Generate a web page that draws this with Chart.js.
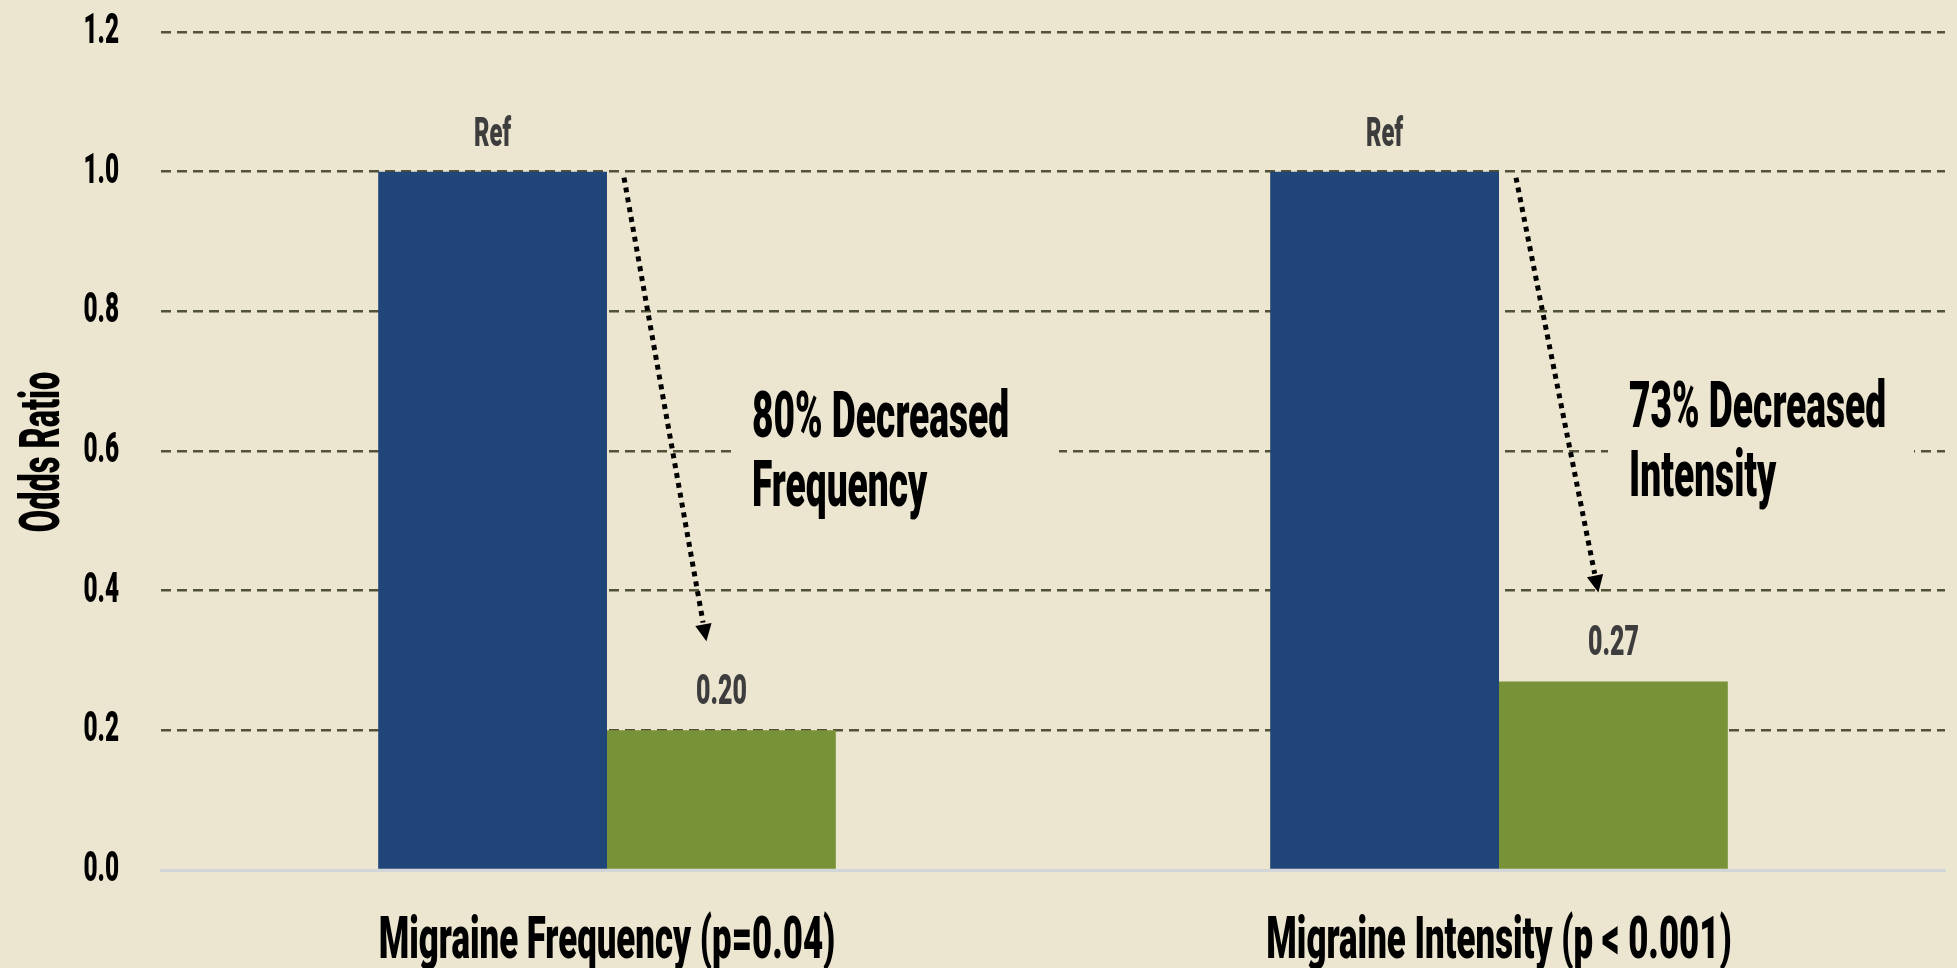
<!DOCTYPE html>
<html>
<head>
<meta charset="utf-8">
<script src="https://cdn.jsdelivr.net/npm/chart.js@4/dist/chart.umd.min.js"></script>
<style>
  html, body { margin: 0; padding: 0; background: #ece5d0; }
  canvas { display: block; }
</style>
</head>
<body>
<canvas id="chart" width="1957" height="968"></canvas>
<script>
// Odds ratios per outcome: reference group vs treated group
const categories = ['Migraine Frequency (p=0.04)', 'Migraine Intensity (p < 0.001)'];
const refValues = [1.0, 1.0];
const treatedValues = [0.20, 0.27];
const refLabel = 'Ref';
const yTicks = [0.0, 0.2, 0.4, 0.6, 0.8, 1.0, 1.2];
const yTitle = 'Odds Ratio';
const notes = [
    ['80% Decreased', 'Frequency'],
    ['73% Decreased', 'Intensity'],
];

// The original uses a very narrow poster font, so text is drawn squeezed
const kFont = 'Roboto';
const kSqueeze = 0.58;
const kBg = '#ece5d0';

function squeezedText(ctx, text, x, y, size, color, align, angle = 0) {
    ctx.save();
    ctx.translate(x, y);
    ctx.rotate(angle);
    ctx.scale(kSqueeze, 1);
    ctx.font = `900 ${size}px ${kFont}`;
    ctx.textAlign = align;
    ctx.textBaseline = 'alphabetic';
    ctx.fillStyle = color;
    ctx.fillText(text, 0, 0);
    ctx.restore();
}

function dottedArrow(ctx, x0, y0, x1, y1) {
    const ang = Math.atan2(y1 - y0, x1 - x0);
    const head = 19;
    ctx.save();
    ctx.strokeStyle = '#000';
    ctx.fillStyle = '#000';
    ctx.lineWidth = 5;
    ctx.setLineDash([5, 5]);
    ctx.beginPath();
    ctx.moveTo(x0, y0);
    ctx.lineTo(x1 - Math.cos(ang) * head, y1 - Math.sin(ang) * head);
    ctx.stroke();
    ctx.setLineDash([]);
    ctx.beginPath();
    ctx.moveTo(x1, y1);
    ctx.lineTo(x1 - Math.cos(ang - 0.45) * head, y1 - Math.sin(ang - 0.45) * head);
    ctx.lineTo(x1 - Math.cos(ang + 0.45) * head, y1 - Math.sin(ang + 0.45) * head);
    ctx.closePath();
    ctx.fill();
    ctx.restore();
}

const labelsPlugin = {
    id: 'labels',
    afterDraw(chart) {
        const { ctx, chartArea } = chart;
        const x = chart.scales.x;
        const y = chart.scales.y;

        // y axis tick labels and title
        yTicks.forEach(v => {
            squeezedText(ctx, v.toFixed(1), chartArea.left - 42, y.getPixelForValue(v) + 11, 42, '#000', 'right');
        });
        squeezedText(ctx, yTitle, 59, (chartArea.top + chartArea.bottom) / 2 + 1, 56, '#000', 'center', -Math.PI / 2);

        // category labels under the axis
        categories.forEach((c, i) => {
            squeezedText(ctx, c, x.getPixelForValue(i), chartArea.bottom + 88, 60, '#000', 'center');
        });

        // bar value labels
        const refBars = chart.getDatasetMeta(0).data;
        const treatedBars = chart.getDatasetMeta(1).data;
        refBars.forEach(bar => {
            squeezedText(ctx, refLabel, bar.x, bar.y - 26, 41, '#3d3d3d', 'center');
        });
        treatedBars.forEach((bar, i) => {
            squeezedText(ctx, treatedValues[i].toFixed(2), bar.x, bar.y - 26, 43, '#3d3d3d', 'center');
        });

        // call-out text boxes, they hide the grid line behind them
        const noteOffsets = [145, 130];
        const noteLevels = [0.62, 0.634];
        const boxWidths = [328, 306];
        notes.forEach((lines, i) => {
            const tx = x.getPixelForValue(i) + noteOffsets[i];
            const ty = y.getPixelForValue(noteLevels[i]);
            ctx.fillStyle = kBg;
            ctx.fillRect(tx - 21, ty - 62, boxWidths[i], 150);
            lines.forEach((line, k) => {
                squeezedText(ctx, line, tx, ty + k * 69, 64, '#000', 'left');
            });
        });

        // dotted arrows from the reference bar down to the treated value
        refBars.forEach((bar, i) => {
            const green = treatedBars[i];
            dottedArrow(ctx, bar.x + bar.width / 2 + 17, bar.y + 6, green.x - 15, green.y - 89);
        });
    }
};

new Chart(document.getElementById('chart'), {
    type: 'bar',
    data: {
        labels: categories,
        datasets: [
            {
                label: 'Reference',
                data: refValues,
                backgroundColor: '#1f4579',
                borderWidth: 0,
            },
            {
                label: 'Treated',
                data: treatedValues,
                backgroundColor: '#789238',
                borderWidth: 0,
            },
        ]
    },
    options: {
        responsive: false,
        animation: false,
        layout: {
            padding: { left: 161, right: 12, top: 32, bottom: 90 },
        },
        datasets: {
            bar: {
                categoryPercentage: 0.513,
                barPercentage: 1.0,
            }
        },
        scales: {
            x: {
                grid: { display: false },
                ticks: { display: false },
                border: { display: true, color: '#d3d6d9', width: 3 },
            },
            y: {
                min: 0,
                max: 1.2,
                ticks: { display: false, stepSize: 0.2 },
                border: { display: false, dash: [10, 6] },
                grid: {
                    drawTicks: false,
                    lineWidth: 2.5,
                    color: ctx => ctx.tick && ctx.tick.value === 0 ? 'rgba(0,0,0,0)' : '#525236',
                },
            }
        },
        plugins: {
            legend: { display: false },
            tooltip: { enabled: false },
        }
    },
    plugins: [labelsPlugin, {
        id: 'bg',
        beforeDraw(chart) {
            const { ctx, width, height } = chart;
            ctx.save();
            ctx.fillStyle = kBg;
            ctx.fillRect(0, 0, width, height);
            ctx.restore();
        }
    }],
});
</script>
</body>
</html>
